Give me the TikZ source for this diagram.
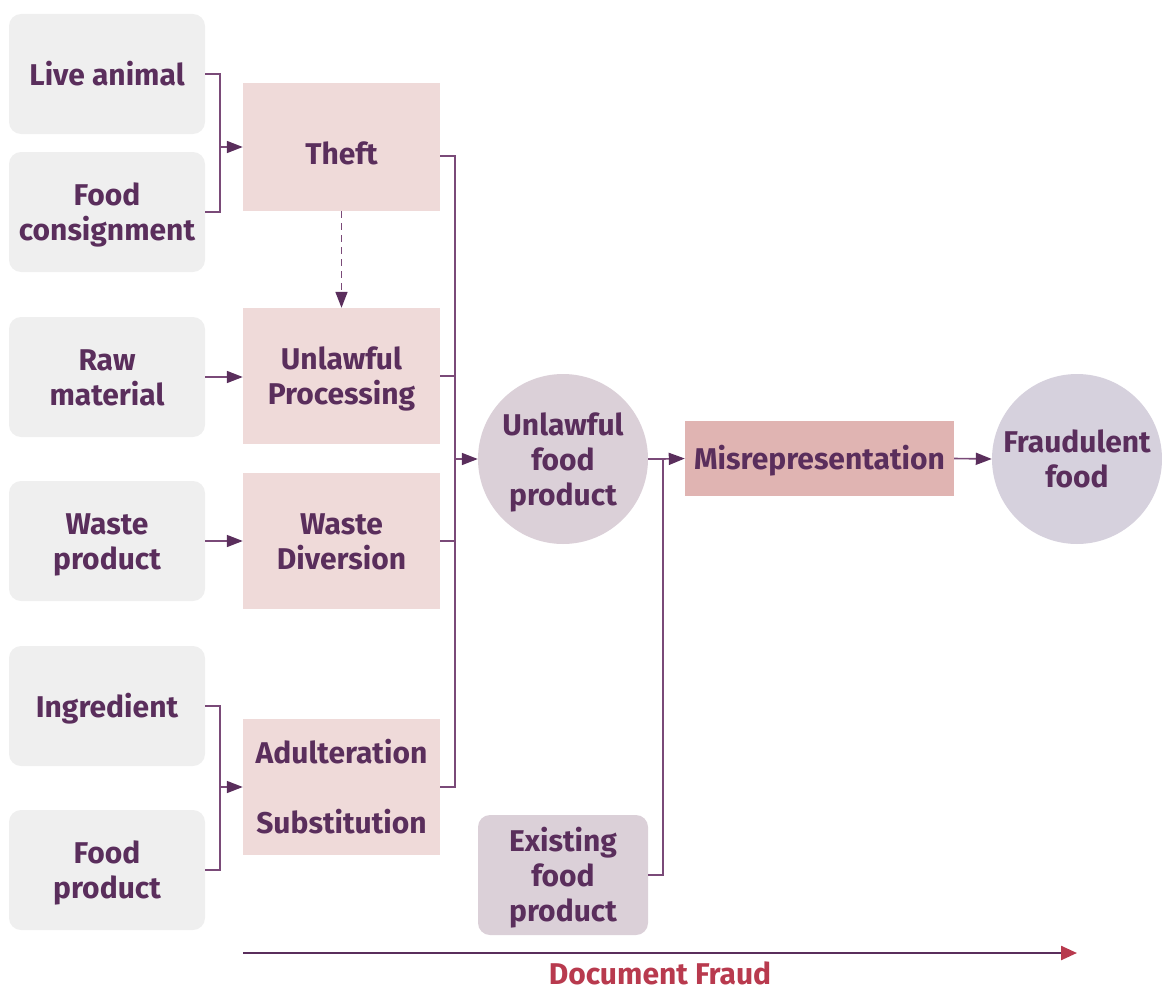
\documentclass[tikz,border=0pt]{standalone}
\usepackage{fontspec}
\setmainfont{Fira Sans}
\usetikzlibrary{arrows.meta}
\definecolor{txt}{HTML}{5A2E5C}
\definecolor{ln}{HTML}{7A4A78}
\definecolor{gfill}{HTML}{EFEFEF}
\definecolor{pfill}{HTML}{EFDAD9}
\definecolor{mfill}{HTML}{E0B4B2}
\definecolor{cfill}{HTML}{DBD0D8}
\definecolor{ffill}{HTML}{D6D1DD}
\definecolor{dred}{HTML}{B83A4E}
\begin{document}
\begin{tikzpicture}[x=1pt,y=-1pt,
  every node/.style={font=\fontsize{30}{35}\selectfont\bfseries, text=txt, align=center, inner sep=0pt, text height=22pt, text depth=0pt},
  two/.style={text height=57pt},
  three/.style={text height=92pt},
  gbox/.style={fill=gfill, rounded corners=12pt, minimum width=196pt, minimum height=120pt},
  pbox/.style={fill=pfill, minimum width=197pt, minimum height=136pt},
  cnode/.style={circle, fill=cfill, minimum size=170pt},
  line/.style={draw=ln, line width=1.6pt},
  arr/.style={line, -{Triangle[length=16pt,width=12pt,fill=txt,color=txt]}}
]
\useasboundingbox (0,0) rectangle (1162,990);
% left boxes
\node[gbox] (live) at (107,74) {Live animal};
\node[gbox, two] (cons) at (107,212) {Food\\consignment};
\node[gbox, two] (raw) at (107,377) {Raw\\material};
\node[gbox, two] (waste) at (107,541) {Waste\\product};
\node[gbox] (ingr) at (107,706) {Ingredient};
\node[gbox, two] (fprod) at (107,870) {Food\\product};
% pink boxes
\node[pbox, minimum height=128pt, text height=34pt] (theft) at (341.5,147) {Theft};
\node[pbox, two] (unl) at (341.5,376) {Unlawful\\Processing};
\node[pbox, two] (wd) at (341.5,541) {Waste\\Diversion};
\node[pbox, three] (adul) at (341.5,787) {Adulteration\\[35pt]Substitution};
% circles etc
\node[cnode, three] (ufp) at (563,459) {Unlawful\\food\\product};
\node[fill=mfill, minimum width=269pt, minimum height=75pt] (mis) at (819.5,458.5) {Misrepresentation};
\node[cnode, two, fill=ffill] (fraud) at (1077,459) {Fraudulent\\food};
\node[three, fill=cfill, rounded corners=12pt, minimum width=170pt, minimum height=120pt] (exist) at (563,875) {Existing\\food\\product};
% brackets
\draw[line] (live.east) -- ++(15,0) |- (cons.east);
\coordinate (b1) at (220,147);
\draw[arr] (b1) -- (theft.west);
\draw[arr] (raw.east) -- (unl.west |- raw.east);
\draw[arr] (waste.east) -- (wd.west |- waste.east);
\draw[line] (ingr.east) -- ++(15,0) |- (fprod.east);
\coordinate (b2) at (220,787);
\draw[arr] (b2) -- (adul.west);
\draw[arr, dash pattern=on 7pt off 5pt] (theft.south) -- (unl.north);
% collector
\draw[line] (theft.east |- 0,156) -- (455,156) |- (adul.east);
\draw[line] (unl.east) -- ++(15,0);
\draw[line] (wd.east) -- ++(15,0);
\coordinate (c) at (455,459);
\draw[arr] (c) -- (ufp.west);
\draw[line] (ufp.east) -- ++(15,0) coordinate (m);
\draw[arr] (m) -- (mis.west);
\draw[line] (exist.east) -| (m);
\draw[arr] (mis.east) -- (fraud.west);
% document fraud
\coordinate (d1) at (243,953);
\coordinate (d2) at (1077,953);
\draw[draw=txt, line width=2.4pt, -{Triangle[length=16pt,width=14pt,fill=dred,color=dred]}] (d1) -- (d2);
\node[text=dred] (df) at (660,973) {Document Fraud};
\end{tikzpicture}
\end{document}
